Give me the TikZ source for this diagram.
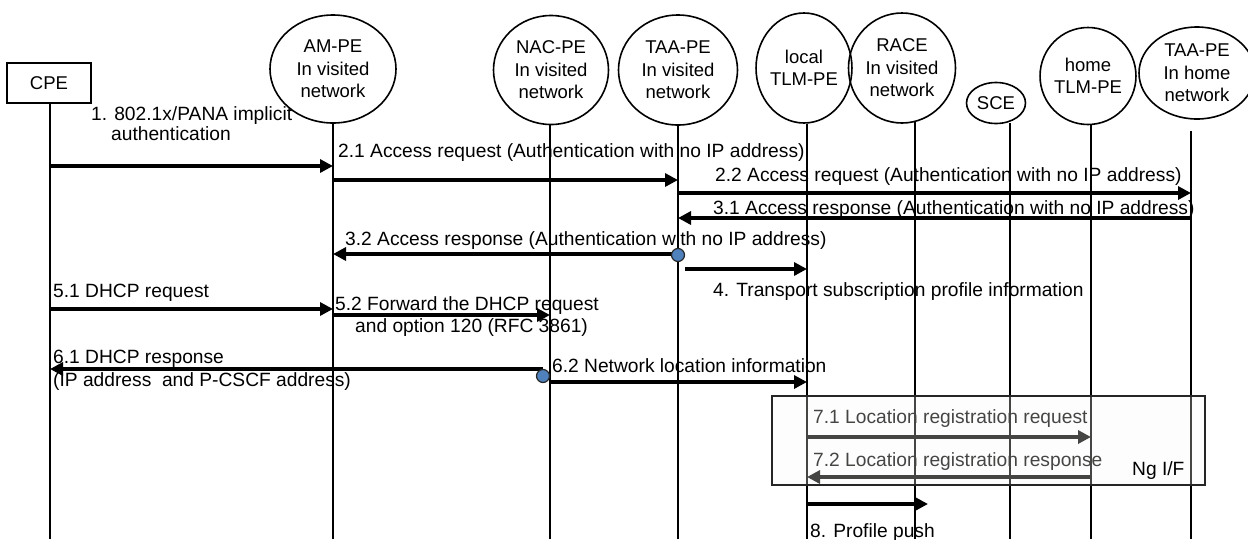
\documentclass[tikz,border=0pt]{standalone}
\usepackage{fontspec}
\setmainfont{Liberation Sans}
\usetikzlibrary{arrows.meta,shapes.geometric}
\definecolor{dotblue}{RGB}{79,129,189}
\definecolor{boxfill}{RGB}{250,249,247}
\begin{document}
\begin{tikzpicture}[x=1pt,y=-1pt,
  actor/.style={ellipse,draw,line width=1.6pt,inner sep=0pt,align=center,
    font=\fontsize{18.5}{22.5}\selectfont},
  cpebox/.style={draw,line width=1.6pt,inner sep=0pt,font=\fontsize{18.5}{22}\selectfont},
  lifeline/.style={line width=1.8pt},
  msg/.style={line width=3.6pt,-{Triangle[length=13pt,width=13pt]}},
  lbl/.style={anchor=base west,inner sep=0pt,font=\fontsize{19.2}{22}\selectfont},
  dot/.style={circle,draw=black!85,line width=1.2pt,fill=dotblue,minimum size=13pt,inner sep=0pt}
]
\useasboundingbox (0,0) rectangle (1248,539);

% participants
\node[cpebox,minimum width=84pt,minimum height=40pt] (CPE) at (49,83) {CPE};
\node[actor,minimum width=126pt,minimum height=108pt] (AM) at (333,69) {AM-PE\\In visited\\network};
\node[actor,minimum width=115pt,minimum height=109pt] (NAC) at (551,70) {NAC-PE\\In visited\\network};
\node[actor,minimum width=119pt,minimum height=110pt] (TAAv) at (678,70) {TAA-PE\\In visited\\network};
\node[actor,minimum width=83pt,minimum height=110pt] (LTLM) at (804,68) {local\\TLM-PE};
\node[actor,minimum width=107pt,minimum height=110pt] (RACE) at (902,68) {RACE\\In visited\\network};
\node[actor,minimum width=59pt,minimum height=41pt] (SCE) at (996,103) {SCE};
\node[actor,minimum width=81pt,minimum height=97pt] (HTLM) at (1088,76) {home\\TLM-PE};
\node[actor,minimum width=116pt,minimum height=92pt] (TAAh) at (1197,73) {TAA-PE\\In home\\network};

% lifeline x positions
\coordinate (xCPE) at (50,0);
\coordinate (xAM) at (333,0);
\coordinate (xNAC) at (550,0);
\coordinate (xTAAv) at (678,0);
\coordinate (xLTLM) at (807,0);
\coordinate (xRACE) at (915,0);
\coordinate (xSCE) at (1010,0);
\coordinate (xHTLM) at (1091,0);
\coordinate (xTAAh) at (1191,0);

% lifelines
\draw[lifeline] (xCPE |- CPE.south) -- (xCPE |- 0,539);
\draw[lifeline] (xAM |- AM.south) -- (xAM |- 0,539);
\draw[lifeline] (xNAC |- NAC.south) -- (xNAC |- 0,539);
\draw[lifeline] (xTAAv |- TAAv.south) -- (xTAAv |- 0,539);
\draw[lifeline] (xLTLM |- LTLM.south) -- (xLTLM |- 0,539);
\draw[lifeline] (xRACE |- 0,121) -- (xRACE |- 0,539);
\draw[lifeline] (xSCE |- 0,123) -- (xSCE |- 0,539);
\draw[lifeline] (xHTLM |- HTLM.south) -- (xHTLM |- 0,539);
\draw[lifeline] (xTAAh |- 0,131) -- (xTAAh |- 0,539);

% 1
\node[lbl] (t1a) at (91,120) {1. 802.1x/PANA implicit};
\node[lbl] (t1b) at (111,140) {authentication};
\draw[msg] (xCPE |- 0,166) -- (xAM |- 0,166);
% 2.1
\node[lbl] (t21) at (338,157) {2.1 Access request (Authentication with no IP address)};
\draw[msg] (xAM |- 0,180) -- (xTAAv |- 0,180);
% 2.2
\node[lbl] (t22) at (715,181) {2.2 Access request (Authentication with no IP address)};
\draw[msg] (xTAAv |- 0,193) -- (xTAAh |- 0,193);
% 3.1
\node[lbl] (t31) at (713,214) {3.1 Access response (Authentication with no IP address)};
\draw[msg] (xTAAh |- 0,218) -- (xTAAv |- 0,218);
% 3.2
\node[lbl] (t32) at (345,245) {3.2 Access response (Authentication with no IP address)};
\draw[msg] (xTAAv |- 0,254) -- (xAM |- 0,254);
\node[dot] (d1) at (678,255) {};
% 4
\coordinate (s4) at (685,269);
\draw[msg] (s4) -- (xLTLM |- s4);
\node[lbl] (t4) at (713,296) {4. Transport subscription profile information};
% 5.1
\node[lbl] (t51) at (53,297) {5.1 DHCP request};
\draw[msg] (xCPE |- 0,309) -- (xAM |- 0,309);
% 5.2
\node[lbl] (t52a) at (335,310) {5.2 Forward the DHCP request};
\node[lbl] (t52b) at (355,332) {and option 120 (RFC 3861)};
\draw[msg] (xAM |- 0,315) -- (xNAC |- 0,315);
% 6.1
\coordinate (s61) at (543,369);
\draw[msg] (s61) -- (xCPE |- s61);
\node[lbl] (t61a) at (53,363) {6.1 DHCP response};
\node[lbl] (t61b) at (53,386) {(IP address~ and P-CSCF address)};
\node[dot] (d2) at (543,376) {};
% 6.2
\node[lbl] (t62) at (552,372) {6.2 Network location information};
\draw[msg] (xNAC |- 0,382) -- (xLTLM |- 0,382);

% 7.x inside the Ng interface box
\node[lbl] (t71) at (813,423) {7.1 Location registration request};
\draw[msg] (xLTLM |- 0,437) -- (xHTLM |- 0,437);
\node[lbl] (t72) at (813,466) {7.2 Location registration response};
\draw[msg] (xHTLM |- 0,477) -- (xLTLM |- 0,477);
\fill[boxfill,opacity=0.28] (772,396) rectangle (1205,485);
\draw[line width=1.6pt,black!85] (772,396) rectangle (1205,485);
\node[lbl] (tng) at (1132,475) {Ng I/F};

% 8
\coordinate (e8) at (928,504);
\draw[msg] (xLTLM |- e8) -- (e8);
\node[lbl] (t8) at (810,537) {8. Profile push};
\end{tikzpicture}
\end{document}
